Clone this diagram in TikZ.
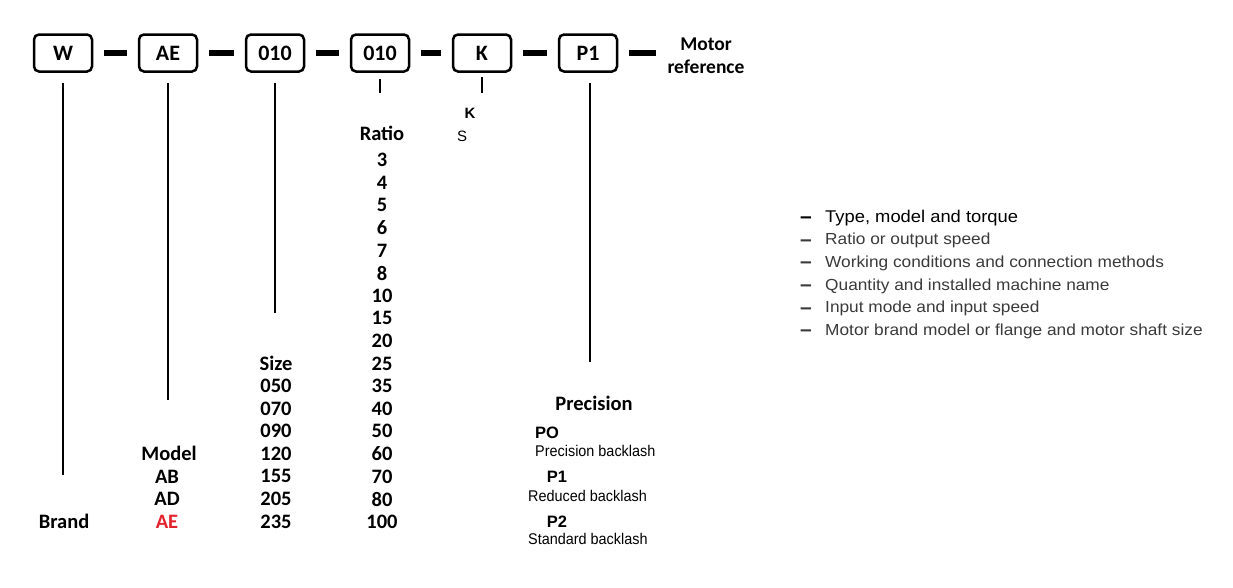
\documentclass[tikz,border=0pt]{standalone}
\usepackage{fontspec}
\setmainfont{Carlito}
\newfontfamily\listfont[FakeStretch=1.08]{Liberation Sans}
\newfontfamily\plainfont{Liberation Sans}
\newfontfamily\narrowfont[FakeStretch=0.93]{Liberation Sans}
\usetikzlibrary{positioning}
\definecolor{codered}{HTML}{E3222B}
\definecolor{listgray}{HTML}{3A3A3A}

\begin{document}
\begin{tikzpicture}[x=1pt, y=-1pt,
		codebox/.style={draw, line width=2.5pt, rounded corners=5pt, minimum width=58pt, minimum height=37pt, inner sep=0pt, font=\fontsize{22}{24}\selectfont\bfseries},
		bar/.style={line width=6pt, shorten <=11pt, shorten >=11pt},
		lead/.style={line width=2.7pt, shorten <=#1},
		lead/.default=10pt,
		colnum/.style={inner sep=0pt, font=\fontsize{20.5}{22}\selectfont\bfseries},
		small/.style={inner sep=0pt, font=\fontsize{15}{17}\selectfont\plainfont},
		pcode/.style={inner sep=0pt, font=\fontsize{16.5}{18}\selectfont\plainfont\bfseries},
		backlash/.style={inner sep=0pt, anchor=west, font=\fontsize{15.5}{17}\selectfont\narrowfont},
		item/.style={inner sep=0pt, anchor=west, text=listgray, font=\fontsize{16}{18}\selectfont\listfont},
		itemdash/.style={inner sep=0pt, font=\fontsize{21}{22}\selectfont\plainfont\bfseries}]
			\useasboundingbox (0,0) rectangle (1233,587);
			
			%code boxes
			\node[codebox] (w) at (63, 53){W};
			\node[codebox] (ae) at (168, 53){AE};
			\node[codebox] (size) at (275, 53){010};
			\node[codebox] (ratio) at (380, 53){010};
			\node[codebox] (k) at (482, 53){K};
			\node[codebox] (p1) at (588, 53){P1};
			\node[inner sep=0pt, align=center, font=\fontsize{19.5}{23}\selectfont\bfseries] (motor) at (706, 56){Motor\\reference};
			
			\draw[bar] (w.east) -- (ae.west);
			\draw[bar] (ae.east) -- (size.west);
			\draw[bar] (size.east) -- (ratio.west);
			\draw[bar] (ratio.east) -- (k.west);
			\draw[bar] (k.east) -- (p1.west);
			\draw[bar] (p1.east) -- (p1.east -| motor.west);
			
			%leads down
			\coordinate (wend) at (63, 475);
			\coordinate (aeend) at (168, 400);
			\coordinate (sizeend) at (275, 313);
			\coordinate (ratioend) at (380, 93);
			\coordinate (kend) at (482, 93);
			\coordinate (p1end) at (590, 362);
			\draw[lead] (w.south) -- (wend);
			\draw[lead] (ae.south) -- (aeend);
			\draw[lead] (size.south) -- (sizeend);
			\draw[lead=6pt] (ratio.south) -- (ratioend);
			\draw[lead=4pt] (k.south) -- (kend);
			\draw[lead] ([xshift=2pt]p1.south) -- (p1end);
			
			%ratio column
			\node[colnum] (ratiohead) at (382, 133){Ratio};
			\foreach \v [count=\i from 0] in {3, 4, 5, 6, 7, 8, 10, 15, 20, 25, 35, 40, 50, 60, 70, 80, 100}{
				\node[colnum] (ratio\i) at (382, 160+22.6*\i){\v};
			}
			
			%size column
			\node[colnum] (sizehead) at (276, 160+22.6*9){Size};
			\foreach \v [count=\i from 10] in {050, 070, 090, 120, 155, 205, 235}{
				\node[colnum] (size\i) at (276, 160+22.6*\i){\v};
			}
			
			%model column
			\node[colnum] (modelhead) at (169, 160+22.6*13){Model};
			\node[colnum] (modelab) at (167, 160+22.6*14){AB};
			\node[colnum] (modelad) at (167, 160+22.6*15){AD};
			\node[colnum, text=codered] (modelae) at (167, 160+22.6*16){AE};
			\node[colnum] (brand) at (64, 160+22.6*16){Brand};
			
			%K and S
			\node[small, font=\fontsize{15}{17}\selectfont\plainfont\bfseries] (kk) at (470, 113){K};
			\node[small] (ks) at (462, 136){S};
			
			%precision
			\node[colnum] (prechead) at (594, 403){Precision};
			\node[pcode, anchor=west] (p0) at (535, 433){PO};
			\node[backlash] (p0text) at (535, 451){Precision backlash};
			\node[pcode] (pp1) at (557, 477){P1};
			\node[backlash] (p1text) at (528, 496){Reduced backlash};
			\node[pcode] (pp2) at (557, 522){P2};
			\node[backlash] (p2text) at (528, 539){Standard backlash};
			
			%list on the right
			\node[item, text=black, font=\fontsize{17}{19}\selectfont\listfont] (item0) at (825, 218){Type, model and torque};
			\node[itemdash] (dash0) at (806, 220){–};
			\foreach \t [count=\i from 1] in {Ratio or output speed, Working conditions and connection methods, Quantity and installed machine name, Input mode and input speed, Motor brand model or flange and motor shaft size}{
				\node[item] (item\i) at (825, 218+22.7*\i){\t};
				\node[itemdash, text=listgray] (dash\i) at (806, 220+22.7*\i){–};
			}
		\end{tikzpicture}
\end{document}
